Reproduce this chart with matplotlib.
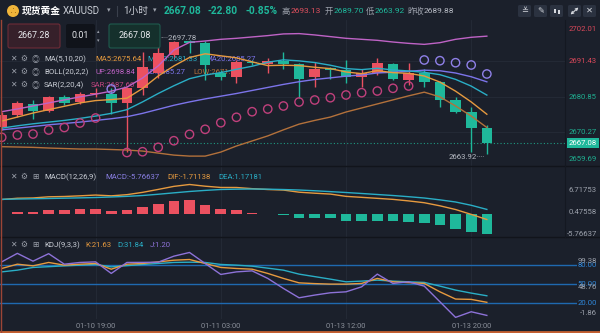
import numpy as np
import matplotlib.pyplot as plt
from matplotlib.patches import FancyBboxPatch, Circle, Rectangle
from matplotlib.transforms import Affine2D, IdentityTransform, blended_transform_factory

plt.rcParams['font.family'] = ['Roboto', 'Noto Sans CJK SC', 'DejaVu Sans']

# XAUUSD 1h bars, 01-10 13:00 .. 01-13 21:00
opens = np.array([2671.85, 2675.41, 2678.59, 2676.69, 2680.67, 2679.19, 2681.65, 2681.65,
                  2679.07, 2683.35, 2687.80, 2693.24, 2697.49, 2696.90, 2687.80, 2686.79,
                  2691.25, 2690.57, 2691.55, 2690.57, 2686.62, 2689.29, 2688.78, 2686.62,
                  2687.80, 2690.48, 2685.81, 2687.80, 2685.31, 2679.87, 2676.39, 2671.46])
highs = np.array([2676.30, 2679.57, 2679.87, 2681.06, 2681.36, 2682.25, 2683.35, 2683.35,
                  2683.82, 2694.22, 2697.78, 2697.40, 2697.60, 2697.50, 2688.78, 2691.76,
                  2691.80, 2692.26, 2694.05, 2690.78, 2691.25, 2689.77, 2691.76, 2688.99,
                  2692.26, 2690.87, 2690.78, 2688.99, 2685.50, 2680.85, 2677.70, 2672.44])
lows = np.array([2670.95, 2674.82, 2674.22, 2676.30, 2678.38, 2678.68, 2680.85, 2675.71,
                 2664.40, 2681.36, 2686.32, 2692.65, 2693.75, 2685.81, 2685.81, 2684.83,
                 2690.20, 2687.80, 2688.99, 2680.37, 2683.82, 2686.02, 2684.83, 2683.82,
                 2687.30, 2685.81, 2684.33, 2683.82, 2677.70, 2675.92, 2664.30, 2663.92])
closes = np.array([2675.41, 2678.89, 2676.69, 2680.67, 2678.89, 2681.65, 2682.04, 2678.89,
                   2683.35, 2689.77, 2693.75, 2697.20, 2696.90, 2690.27, 2686.62, 2691.25,
                   2690.90, 2691.55, 2690.57, 2686.20, 2688.99, 2688.78, 2686.62, 2687.80,
                   2690.78, 2686.02, 2687.80, 2685.31, 2679.87, 2676.39, 2671.46, 2667.08])

ma5 = [2673.6, 2674.8, 2676.0, 2677.0, 2678.0, 2679.0, 2679.7, 2680.0, 2680.4, 2683.3, 2687.0,
       2690.0, 2692.5, 2693.6, 2693.0, 2692.4, 2691.2, 2690.1, 2690.2, 2690.1, 2689.6, 2689.2,
       2688.2, 2687.7, 2688.6, 2688.0, 2687.8, 2687.0, 2685.2, 2682.5, 2679.3, 2675.64]
ma10 = [2671.5, 2672.2, 2672.8, 2673.3, 2673.8, 2674.4, 2675.1, 2675.9, 2677.0, 2679.3, 2681.8,
        2684.1, 2686.2, 2687.3, 2688.0, 2689.0, 2689.9, 2691.1, 2691.8, 2691.5, 2691.0, 2690.2,
        2689.2, 2688.9, 2689.3, 2688.8, 2688.5, 2688.1, 2687.4, 2686.0, 2684.0, 2681.33]
ma20 = [2671.0, 2671.5, 2672.0, 2672.5, 2672.9, 2673.3, 2673.8, 2674.3, 2674.9, 2675.9, 2677.1,
        2678.3, 2679.3, 2680.2, 2681.0, 2681.8, 2682.7, 2683.6, 2684.5, 2685.3, 2685.96, 2686.45,
        2686.95, 2687.31, 2687.90, 2688.12, 2688.41, 2688.73, 2688.56, 2687.89, 2686.78, 2685.27]
boll_up = [2676.4, 2677.2, 2678.1, 2679.0, 2679.9, 2680.8, 2681.6, 2682.5, 2683.7, 2686.4, 2690.0,
           2694.7, 2697.0, 2697.4, 2697.9, 2698.2, 2698.6, 2699.0, 2699.5, 2699.6, 2699.2, 2698.7,
           2698.2, 2697.9, 2697.6, 2697.1, 2696.7, 2696.4, 2696.9, 2697.9, 2698.5, 2698.84]
boll_low = [2666.0, 2665.9, 2665.8, 2665.6, 2665.45, 2665.3, 2665.3, 2665.16, 2665.0, 2664.7,
            2664.1, 2663.5, 2663.2, 2663.2, 2664.4, 2666.2, 2667.7, 2669.2, 2671.0, 2672.7,
            2673.8, 2674.8, 2676.3, 2677.5, 2678.7, 2679.9, 2681.1, 2682.2, 2680.8, 2678.1,
            2675.1, 2671.70]
sar = np.array([2668.78, 2669.47, 2669.76, 2670.95, 2671.70, 2673.03, 2674.52, 2683.14, 2664.27,
                2664.50, 2665.81, 2667.77, 2669.68, 2671.16, 2673.12, 2674.73, 2676.39, 2677.19,
                2678.09, 2679.27, 2679.87, 2680.55, 2681.36, 2682.04, 2682.54, 2683.35, 2684.03,
                2691.76, 2691.55, 2690.95, 2690.27, 2687.60])

macd_hist = np.array([-0.15, 0.45, 0.45, 0.95, 0.95, 1.15, 1.4, 0.65, 0.95, 1.8, 2.75, 3.7, 4.0,
                      2.4, 1.15, 0.95, 0.2, -0.2, -0.3, -1.25, -1.4, -1.4, -2.2, -2.2, -2.2, -2.2,
                      -2.4, -2.7, -3.4, -4.3, -5.2, -5.76637])
dif = [3.99, 4.36, 4.44, 4.77, 4.86, 5.05, 5.27, 5.05, 5.38, 6.04, 6.88, 7.75, 8.29, 7.8, 7.44,
       7.43, 7.1, 6.85, 6.7, 6.09, 5.8, 5.55, 4.9, 4.62, 4.33, 4.04, 3.6, 3.08, 2.2, 1.14, -0.25,
       -1.71138]
dea = [4.06, 4.13, 4.21, 4.29, 4.38, 4.47, 4.57, 4.72, 4.9, 5.14, 5.5, 5.9, 6.29, 6.6, 6.86,
       6.95, 7.0, 6.95, 6.85, 6.71, 6.5, 6.25, 6.0, 5.72, 5.43, 5.14, 4.8, 4.43, 3.9, 3.29, 2.35,
       1.17181]

k_line = [74.4, 81.1, 78.5, 83.8, 79.6, 81.1, 82.2, 73.3, 81.1, 82.2, 84.7, 87.3, 88.4, 82.2,
          76.0, 74.4, 73.3, 66.7, 58.9, 52.0, 50.8, 50.0, 50.0, 51.1, 58.9, 53.6, 52.3, 51.1,
          38.0, 26.7, 26.2, 21.63]
d_line = [69.1, 71.8, 76.0, 77.2, 78.5, 79.6, 80.7, 76.9, 78.8, 80.7, 82.2, 83.8, 84.2, 83.8,
          80.7, 79.6, 78.0, 74.9, 71.8, 65.6, 61.7, 57.8, 53.6, 54.7, 56.2, 54.7, 53.6, 52.7,
          46.9, 40.7, 36.0, 31.84]
j_line = [84.7, 98.0, 85.8, 97.5, 81.1, 83.8, 84.7, 66.7, 83.8, 83.9, 84.2, 93.6, 99.38, 82.2,
          65.1, 69.1, 70.7, 58.9, 43.3, 28.7, 32.9, 36.5, 38.0, 45.8, 65.6, 51.1, 53.6, 46.9,
          22.5, -1.86, 6.9, 1.20]

time_ticks = [6, 14, 22, 30]
time_labels = ['01-10 19:00', '01-11 03:00', '01-13 12:00', '01-13 20:00']
price_levels = [2702.01, 2691.43, 2680.85, 2670.27, 2659.69]
macd_levels = [6.71753, 0.47558, -5.76637]
kdj_levels = [80, 50, 20]
kdj_range = ['99.38', '48.76', '-1.86']

prev_close = 2689.88
day_high, day_open, day_low = 2693.13, 2689.70, 2663.92
sell_price, buy_price = 2667.28, 2667.08
change, change_pct = -22.80, -0.85

# colours
BG = '#1b202b'
GRID = '#252b37'
RED = '#eb5160'
GREEN = '#1fb89b'
ORANGE = '#e69a3f'
TEAL = '#2aaec6'
VIOLET = '#7c74ea'
PINK = '#bf63c6'
BROWN = '#b3713b'
PURPLE = '#8d72d8'
TXT = '#c9cdd5'
DIM = '#9ca1ab'
ICON = '#d6d9df'

W, H = 600, 333
STEP, X0 = 15.65, 1.7
idx = np.arange(len(closes))

fig = plt.figure(figsize=(W / 100, H / 100), dpi=100, facecolor=BG)
PX = Affine2D().scale(1, -1).translate(0, H)


def panel(x0, y0, x1, y1):
    a = fig.add_axes([x0 / W, 1 - y1 / H, (x1 - x0) / W, (y1 - y0) / H])
    a.set_xlim(-X0 / STEP, (x1 - x0 - X0) / STEP)
    a.axis('off')
    return a


def put(a, x, y, s, color, size=5.6, **kw):
    a.text(x, y, s, color=color, fontsize=size, transform=PX, va='center', **kw)


def right_label(a, value, text, color, x=597, bbox=None):
    tr = blended_transform_factory(IdentityTransform(), a.transData)
    a.text(x, value, text, color=color, fontsize=5.6, transform=tr, ha='right',
           va='center', clip_on=False, bbox=bbox, zorder=6)


# ---- main price panel ----
ax = panel(0, 20, 565, 166)
lo, hi = 2660.26, 2703.64
ax.set_ylim(lo, hi)
for lv in price_levels[1:4]:
    ax.axhline(lv, color=GRID, lw=0.6, zorder=0)
for t in time_ticks:
    ax.axvline(t, color=GRID, lw=0.6, zorder=0)
ax.axhline(closes[-1], color='#1f9a82', lw=0.8, ls=(0, (1, 2)), zorder=1)

cols = np.where(closes >= opens, RED, GREEN)
ax.vlines(idx, lows, highs, colors=cols, lw=1.0, zorder=3)
ax.bar(idx, np.maximum(np.abs(closes - opens), 0.15), bottom=np.minimum(opens, closes),
       width=0.68, color=cols, zorder=3)

ax.plot(idx, boll_up, color=PINK, lw=1.0, zorder=4)
ax.plot(idx, boll_low, color=BROWN, lw=1.0, zorder=4)
ax.plot(idx, ma20, color=VIOLET, lw=1.0, zorder=4)
ax.plot(idx, ma10, color=TEAL, lw=1.0, zorder=4)
ax.plot(idx, ma5, color=ORANGE, lw=1.0, zorder=4)
sar_cols = np.where(sar > closes, '#8f80e8', '#c0407c')
ax.scatter(idx, sar, s=36, facecolors='none', edgecolors=sar_cols, linewidths=1.0, zorder=4)

hi_i, lo_i = int(np.argmax(highs)), int(np.argmin(lows))
ax.annotate('····' + f'{highs[hi_i]:.2f}', xy=(hi_i, highs[hi_i]), xytext=(1.5, 1.5),
            textcoords='offset points', color='#b7bbc4', fontsize=5.6, va='center', zorder=5)
ax.annotate(f'{lows[lo_i]:.2f}' + '····', xy=(lo_i, lows[lo_i]), xytext=(-1.5, -2.2),
            textcoords='offset points', color='#b7bbc4', fontsize=5.6, va='center',
            ha='right', zorder=5)

for lv in price_levels:
    shown = min(max(lv, lo + 2.0), hi - 2.7)
    right_label(ax, shown, f'{lv:.2f}', '#d9485a' if lv > prev_close else '#1fae90')
right_label(ax, closes[-1], f'{closes[-1]:.2f}', 'white',
            bbox=dict(boxstyle='square,pad=0.3', fc=GREEN, ec='none'))

# indicator legends
icon_x = [13, 24, 36]
rows = [
    (59, 'MA(5,10,20)', [(95, f'MA5:{ma5[-1]:.2f}', ORANGE), (147, f'MA10:{ma10[-1]:.2f}', TEAL),
                         (205, f'MA20:{ma20[-1]:.2f}', VIOLET)]),
    (72, 'BOLL(20,2,2)', [(95, f'UP:{boll_up[-1]:.2f}', PINK), (141, f'MID:{ma20[-1]:.2f}', VIOLET),
                          (193, f'LOW:{boll_low[-1]:.2f}', BROWN)]),
    (85, 'SAR(2,20,4)', [(91, f'SAR:{sar[-1]:.2f}', '#c2457f')]),
]
for y, name, items in rows:
    for xi, g in zip(icon_x, ['✕', '⚙', '◎']):
        put(ax, xi, y, g, DIM, size=5.6, ha='center', zorder=2)
    put(ax, 44, y, name, TXT, zorder=2)
    for xi, s, c in items:
        put(ax, xi, y, s, c, zorder=2)

# ---- MACD panel ----
axm = panel(0, 166, 565, 237)
axm.set_ylim(-6.71, 13.57)
for t in time_ticks:
    axm.axvline(t, color=GRID, lw=0.6, zorder=0)
axm.bar(idx, macd_hist, width=0.68, color=np.where(macd_hist >= 0, RED, GREEN), zorder=2)
axm.plot(idx, dif, color=ORANGE, lw=1.0, zorder=3)
axm.plot(idx, dea, color=TEAL, lw=1.0, zorder=3)
for lv in macd_levels:
    right_label(axm, lv, f'{lv:.5f}', DIM)
for xi, g in zip(icon_x, ['✕', '⚙', '⊞']):
    put(axm, xi, 177, g, DIM, ha='center')
put(axm, 44, 177, 'MACD(12,26,9)', TXT)
put(axm, 105, 177, f'MACD:{macd_hist[-1]:.5f}', '#8a7fe4')
put(axm, 167, 177, f'DIF:{dif[-1]:.5f}', ORANGE)
put(axm, 218, 177, f'DEA:{dea[-1]:.5f}', TEAL)

# ---- KDJ panel ----
axk = panel(0, 237, 577, 319)
axk.set_ylim(-4.4, 123.5)
for t in time_ticks:
    axk.axvline(t, color=GRID, lw=0.6, zorder=0)
for lv in kdj_levels:
    axk.axhline(lv, color='#1f69b0', lw=1.0, zorder=1)
    right_label(axk, lv, f'{lv:.2f}', '#2f86d8')
axk.plot(idx, d_line, color=TEAL, lw=1.0, zorder=3)
axk.plot(idx, k_line, color=ORANGE, lw=1.0, zorder=3)
axk.plot(idx, j_line, color=PURPLE, lw=1.0, zorder=3)
# range labels sit on top of the level labels, as the terminal draws them
for frac, s in zip([0.707, 0.394, 0.077], kdj_range):
    axk.text(597, frac, s, color=DIM, fontsize=5.6, ha='right', va='center',
             transform=blended_transform_factory(IdentityTransform(), axk.transAxes), zorder=6)
for xi, g in zip(icon_x, ['✕', '⚙', '⊞']):
    put(axk, xi, 245, g, DIM, ha='center')
put(axk, 44, 245, 'KDJ(9,3,3)', TXT)
put(axk, 85, 245, f'K:{k_line[-1]:.2f}', ORANGE)
put(axk, 117, 245, f'D:{d_line[-1]:.2f}', TEAL)
put(axk, 150, 245, f'J:{j_line[-1]:.2f}', PURPLE)

tr_time = blended_transform_factory(axk.transData, PX)
for t, lab in zip(time_ticks, time_labels):
    axk.text(t, 326, lab, color='#8b909a', fontsize=5.4, ha='center', va='center',
             transform=tr_time, clip_on=False)

# ---- overlay: header, order boxes, separators ----
ov = fig.add_axes([0, 0, 1, 1])
ov.set_xlim(0, W)
ov.set_ylim(H, 0)
ov.axis('off')
ov.set_zorder(10)

for y in (166, 237):
    ov.plot([0, W], [y, y], color='#11141b', lw=1.0)
ov.plot([565, 565], [20, 237], color='#141821', lw=0.8)
ov.plot([0, W], [332, 332], color='#c45f30', lw=2.0)
ov.plot([0.5, 0.5], [20, 333], color='#9c4536', lw=1.0)

ov.add_patch(Circle((13, 11), 6, fc='#f0b53a', ec='none'))
ov.text(13, 11.5, '∴', color='#8a5a10', fontsize=5, ha='center', va='center')
ov.text(22, 11, '现货黄金', color='white', fontsize=7, fontweight='bold', va='center')
ov.text(63, 11, 'XAUUSD', color=TXT, fontsize=7, va='center')
ov.text(107, 11, '▾', color=DIM, fontsize=5, va='center')
ov.plot([117, 117], [6, 16], color='#3a404c', lw=0.8)
ov.text(123, 11, '1小时', color=TXT, fontsize=7, va='center')
ov.text(153, 11, '▾', color=DIM, fontsize=5, va='center')
ov.text(164, 11, f'{buy_price:.2f}', color=GREEN, fontsize=7.3, fontweight='bold', va='center')
ov.text(208, 11, f'{change:.2f}', color=GREEN, fontsize=7.3, fontweight='bold', va='center')
ov.text(245, 11, f'{change_pct:.2f}%', color=GREEN, fontsize=7.3, fontweight='bold', va='center')
stats = [(282, '高', 291, day_high, '#e0505e'), (325, '开', 334, day_open, GREEN),
         (366, '低', 375, day_low, GREEN), (407, '昨收', 424, prev_close, '#b8bcc5')]
for lx, lab, vx, val, c in stats:
    ov.text(lx, 11, lab, color=DIM, fontsize=6, va='center')
    ov.text(vx, 11, f'{val:.2f}', color=c, fontsize=6, va='center')

# toolbar buttons
for bx in [518, 534, 550, 568, 583]:
    ov.add_patch(FancyBboxPatch((bx, 5), 13, 12, boxstyle='round,pad=0,rounding_size=1.5',
                                fc='#2b3240', ec='none'))
ov.text(524.5, 11, '≚', color=ICON, fontsize=6, ha='center', va='center')
ov.text(540.5, 11, '✎', color=ICON, fontsize=6, ha='center', va='center')
ov.add_patch(Rectangle((553.5, 8.5), 2.2, 4.5, fc=ICON, ec='none'))
ov.add_patch(Rectangle((557.5, 9.5), 2.2, 4.5, fc=ICON, ec='none'))
ov.annotate('', xy=(578.5, 7.5), xytext=(570.5, 14.5),
            arrowprops=dict(arrowstyle='<->', color=ICON, lw=0.8, mutation_scale=4,
                            shrinkA=0, shrinkB=0))
ov.text(589.5, 11, '✕', color=ICON, fontsize=6, ha='center', va='center')

# order entry boxes
ov.add_patch(FancyBboxPatch((8, 24), 52, 24, boxstyle='round,pad=0,rounding_size=2',
                            fc='#36202a', ec='#6d2c37', lw=0.8))
ov.text(34, 36, f'{sell_price:.2f}', color='#e6e8ec', fontsize=6.4, ha='center', va='center')
ov.add_patch(FancyBboxPatch((66, 24), 29, 24, boxstyle='round,pad=0,rounding_size=2',
                            fc='#10131a', ec='none'))
ov.text(71, 36, '0.01', color='#e6e8ec', fontsize=6.4, va='center')
ov.text(98, 31.5, '▴', color=DIM, fontsize=3.5, ha='center', va='center')
ov.text(98, 40.5, '▾', color=DIM, fontsize=3.5, ha='center', va='center')
ov.add_patch(FancyBboxPatch((109, 24), 51, 24, boxstyle='round,pad=0,rounding_size=2',
                            fc='#15302c', ec='#1f5b4e', lw=0.8))
ov.text(134.5, 36, f'{buy_price:.2f}', color='#e6e8ec', fontsize=6.4, ha='center', va='center')

fig.savefig('out.png', dpi=100, facecolor=BG)
